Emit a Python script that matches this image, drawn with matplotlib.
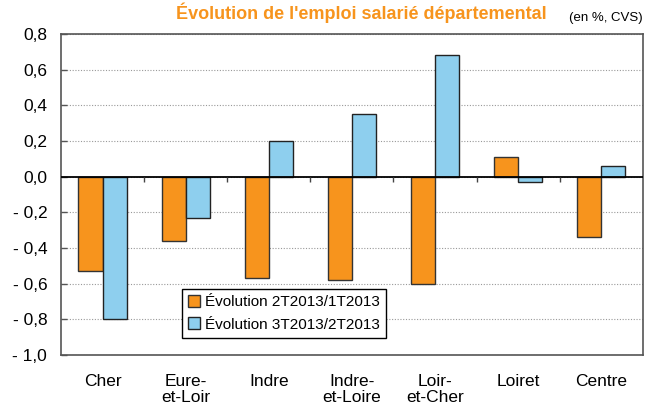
import matplotlib.pyplot as plt
import numpy as np

plt.rcParams['font.family'] = ['Liberation Sans', 'DejaVu Sans']

departements = ['Cher', 'Eure-\net-Loir', 'Indre', 'Indre-\net-Loire', 'Loir-\net-Cher', 'Loiret', 'Centre']
evol_t2 = [-0.53, -0.36, -0.57, -0.58, -0.60, 0.11, -0.34]
evol_t3 = [-0.80, -0.23, 0.20, 0.35, 0.68, -0.03, 0.06]
yticks = [-1.0, -0.8, -0.6, -0.4, -0.2, 0.0, 0.2, 0.4, 0.6, 0.8]

orange = '#F7941D'
bleu = '#8ECFEE'

fig = plt.figure(figsize=(6.45, 4.08), dpi=100)
ax = fig.add_axes([0.0946, 0.130, 0.902, 0.787])

x = np.arange(len(departements))
w = 0.29
ax.bar(x - w / 2, evol_t2, w, color=orange, edgecolor='#333333', linewidth=1.0,
       label='Évolution 2T2013/1T2013', zorder=3)
ax.bar(x + w / 2, evol_t3, w, color=bleu, edgecolor='#222222', linewidth=1.0,
       label='Évolution 3T2013/2T2013', zorder=3)

ax.set_xlim(-0.5, len(departements) - 0.5)
ax.set_ylim(-1.0, 0.8)
ax.set_yticks(yticks)
ax.set_yticklabels([('- ' if v < 0 else '') + '{:.1f}'.format(abs(v)).replace('.', ',')
                    for v in yticks], fontsize=12.5)
ax.yaxis.grid(True, linestyle=(0, (1, 1.5)), color='#999999', linewidth=0.8)
ax.tick_params(axis='y', direction='in', length=4, width=1, color='#555555', pad=10)

ax.set_xticks(x)
ax.set_xticklabels(departements, fontsize=12.5, linespacing=1.05, va='top')
ax.tick_params(axis='x', length=0, pad=14)

# ligne du zero et petits traits entre categories
ax.axhline(0, color='black', linewidth=1.3, zorder=4)
ax.vlines(x[:-1] + 0.5, -0.03, 0, color='#444444', linewidth=1.0, zorder=4)

for s in ax.spines.values():
    s.set_color('#555555')
    s.set_linewidth(1.2)

leg = ax.legend(loc='lower left', bbox_to_anchor=(0.195, 0.03), fontsize=11,
                frameon=True, fancybox=False, edgecolor='black', framealpha=1,
                handlelength=0.8, handleheight=0.8, handletextpad=0.3,
                borderpad=0.4, labelspacing=0.55)
leg.get_frame().set_linewidth(1.0)

fig.text(0.56, 0.993, "Évolution de l'emploi salarié départemental", color=orange,
         fontsize=13, fontweight='bold', ha='center', va='top')
fig.text(0.997, 0.955, '(en %, CVS)', fontsize=9.5, ha='right', va='center')

fig.savefig('out.png', dpi=100)
